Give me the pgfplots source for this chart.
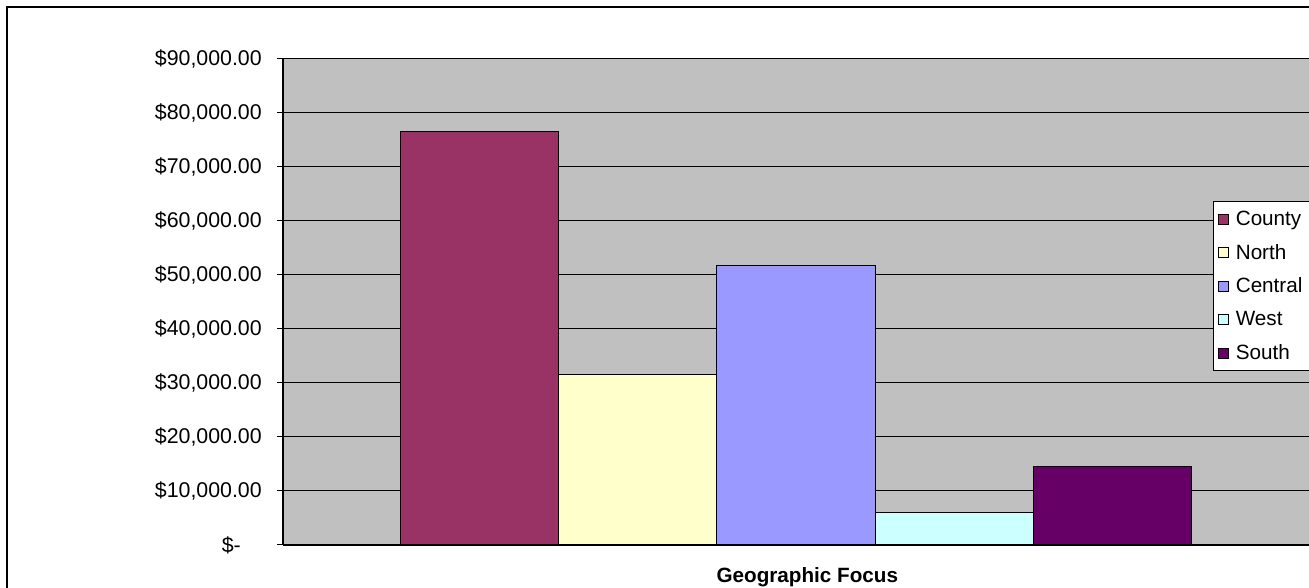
\documentclass[border=0pt]{standalone}
\usepackage{fontspec}
\setmainfont{Liberation Sans}
\usepackage{pgfplots}
\pgfplotsset{compat=1.18}

\definecolor{county}{HTML}{993366}
\definecolor{north}{HTML}{FFFFCC}
\definecolor{central}{HTML}{9999FF}
\definecolor{west}{HTML}{CCFFFF}
\definecolor{south}{HTML}{660066}
\definecolor{plotbg}{HTML}{C0C0C0}

\pgfplotsset{
  swatch/.style={
    legend image code/.code={
      \draw[##1, draw=black, line width=0.5pt] (0pt,-3.8pt) rectangle (7.6pt,3.8pt);
      \path[draw=none, fill=none] (0pt,0pt) -- (11pt,0pt);
    }
  },
  regionbar/.style={ybar, bar width=1, bar shift=0pt, fill=#1, draw=black, line width=0.75pt, swatch},
}

\begin{document}
\begin{tikzpicture}
% page frame: 1309 x 588 units at 0.75pt each
\useasboundingbox (0pt,0pt) rectangle (981.75pt,441pt);
\clip (0pt,0pt) rectangle (981.75pt,441pt);
\draw[line width=1.5pt, black] (5.25pt,-20pt) -- (5.25pt,435.75pt) -- (1000pt,435.75pt);
\begin{axis}[
  at={(212.25pt,32.25pt)}, anchor=south west,
  scale only axis, width=769.5pt, height=364.5pt,
  xmin=-3.24, xmax=3.24, ymin=0, ymax=90000,
  axis background/.style={fill=plotbg},
  axis x line=bottom, axis y line=left,
  axis line style={-, black, line width=0.9pt},
  xtick=\empty,
  scaled y ticks=false,
  ytick={0,10000,20000,30000,40000,50000,60000,70000,80000,90000},
  yticklabels={{\$-\hspace*{15.75pt}},{\$10,000.00},{\$20,000.00},{\$30,000.00},{\$40,000.00},{\$50,000.00},{\$60,000.00},{\$70,000.00},{\$80,000.00},{\$90,000.00}},
  tick align=outside, major tick length=4.5pt,
  tick style={black, line width=0.75pt},
  yticklabel style={font=\fontsize{16}{18}\selectfont, anchor=east, inner sep=0pt, xshift=-11.25pt},
  ymajorgrids, grid style={black, line width=0.75pt},
  xlabel={\bfseries Geographic Focus},
  xlabel style={font=\fontsize{15.5}{17}\selectfont, at={(axis description cs:0.511,0)}, anchor=center, yshift=-24.5pt},
  legend style={
    at={(axis description cs:0.9064,0.7078)}, anchor=north west,
    draw=black, line width=0.75pt, fill=white,
    font=\fontsize{15.5}{17}\selectfont,
    row sep=8.6pt, inner xsep=3.5pt, inner ysep=5pt,
  },
  legend cell align=left,
]
\addplot[regionbar=county]  coordinates {(-2,76500)};
\addplot[regionbar=north]   coordinates {(-1,31500)};
\addplot[regionbar=central] coordinates {(0,51850)};
\addplot[regionbar=west]    coordinates {(1,6000)};
\addplot[regionbar=south]   coordinates {(2,14500)};
\legend{County,North,Central,West,South}
\end{axis}
\end{tikzpicture}
\end{document}
